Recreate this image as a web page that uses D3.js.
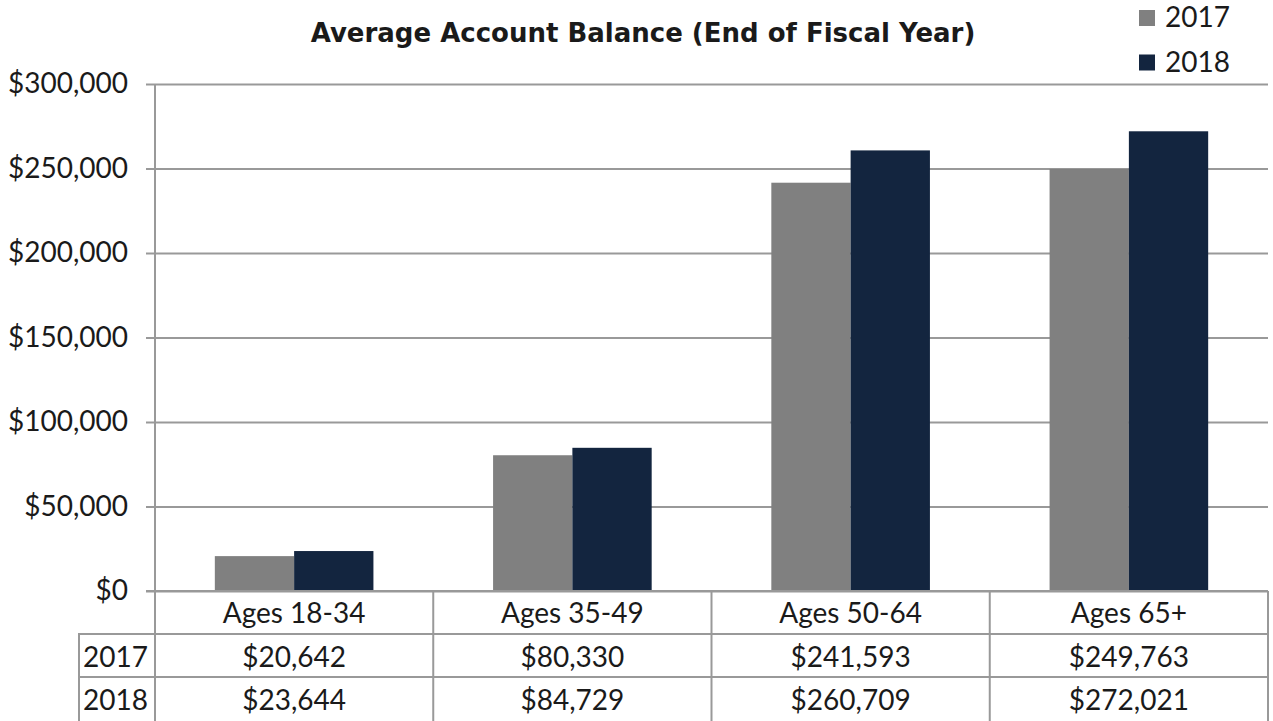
<!DOCTYPE html>
<html>
<head>
<meta charset="utf-8">
<script src="https://cdn.jsdelivr.net/npm/d3@7"></script>
<style>
	body { margin: 0; background: #fff; }
	text { font-family: Lato, "Noto Sans", sans-serif; fill: #1a1a1a; }
</style>
</head>
<body>
<div id="chart"></div>
<script>
// Data
const categories = ["Ages 18-34", "Ages 35-49", "Ages 50-64", "Ages 65+"];
const seriesNames = ["2017", "2018"];
const values2017 = [20642, 80330, 241593, 249763];
const values2018 = [23644, 84729, 260709, 272021];
const yTicks = [0, 50000, 100000, 150000, 200000, 250000, 300000];
const colors = ["#808080", "#13253f"];

const width = 1273;
const height = 721;
const plotLeft = 155, plotRight = 1268, plotTop = 84, plotBottom = 591;
const rowH = 43;
const gridColor = "#999";
const fontSize = 28;

const svg = d3.select("#chart").append("svg")
	.attr("width", width)
	.attr("height", height);

// scales
const x0 = d3.scaleBand()
	.domain(categories)
	.range([plotLeft, plotRight])
	.paddingInner(0.43)
	.paddingOuter(0.215);
const xCell = d3.scaleBand()
	.domain(categories)
	.range([plotLeft, plotRight]);
const x1 = d3.scaleBand()
	.domain(seriesNames)
	.range([0, x0.bandwidth()]);
const y = d3.scaleLinear()
	.domain([0, 300000])
	.range([plotBottom, plotTop]);

// y axis with gridlines
const fmt = d3.format("$,.0f");
const yAxis = d3.axisLeft(y)
	.tickValues(yTicks)
	.tickSize(-(plotRight - plotLeft))
	.tickPadding(18)
	.tickFormat(fmt);

const gy = svg.append("g")
	.attr("transform", "translate(" + plotLeft + ",0)")
	.call(yAxis);
gy.select(".domain").remove();
gy.selectAll(".tick line")
	.attr("stroke", gridColor)
	.attr("stroke-width", 2)
	.attr("x1", -9);
gy.selectAll(".tick text")
	.attr("font-size", fontSize)
	.attr("x", -27);

// bars
const series = [values2017, values2018];
const groups = svg.append("g").selectAll("g")
	.data(categories)
	.join("g")
	.attr("transform", d => "translate(" + x0(d) + ",0)");

groups.selectAll("rect")
	.data((d, i) => seriesNames.map((s, j) => ({ s: s, v: series[j][i], c: colors[j] })))
	.join("rect")
	.attr("x", d => x1(d.s))
	.attr("y", d => y(d.v))
	.attr("width", x1.bandwidth())
	.attr("height", d => plotBottom - y(d.v))
	.attr("fill", d => d.c);

// baseline
svg.append("line")
	.attr("x1", plotLeft - 9).attr("x2", plotRight)
	.attr("y1", plotBottom).attr("y2", plotBottom)
	.attr("stroke", gridColor).attr("stroke-width", 2);

// left axis line, runs down through the data table
svg.append("line")
	.attr("x1", plotLeft).attr("x2", plotLeft)
	.attr("y1", plotTop).attr("y2", height)
	.attr("stroke", gridColor).attr("stroke-width", 2);

// data table
const table = svg.append("g");
const rowTop = [plotBottom, plotBottom + rowH, plotBottom + rowH * 2];

// horizontal lines
[rowTop[1], rowTop[2]].forEach(yy => {
	table.append("line")
		.attr("x1", 78).attr("x2", plotRight)
		.attr("y1", yy).attr("y2", yy)
		.attr("stroke", gridColor).attr("stroke-width", 2);
});
// vertical lines
categories.forEach(c => {
	table.append("line")
		.attr("x1", xCell(c) + xCell.bandwidth()).attr("x2", xCell(c) + xCell.bandwidth())
		.attr("y1", plotBottom).attr("y2", height)
		.attr("stroke", gridColor).attr("stroke-width", 2);
});
table.append("line")
	.attr("x1", 79).attr("x2", 79)
	.attr("y1", rowTop[1]).attr("y2", height)
	.attr("stroke", gridColor).attr("stroke-width", 2);

// category labels
table.selectAll("text.cat")
	.data(categories)
	.join("text")
	.attr("class", "cat")
	.attr("x", d => xCell(d) + xCell.bandwidth() / 2)
	.attr("y", rowTop[0] + 32)
	.attr("text-anchor", "middle")
	.attr("font-size", fontSize)
	.text(d => d);

// value rows
series.forEach((vals, j) => {
	table.append("text")
		.attr("x", 83)
		.attr("y", rowTop[j + 1] + 33)
		.attr("font-size", fontSize)
		.text(seriesNames[j]);
	table.selectAll("text.v" + j)
		.data(vals)
		.join("text")
		.attr("class", "v" + j)
		.attr("x", (d, i) => xCell(categories[i]) + xCell.bandwidth() / 2)
		.attr("y", rowTop[j + 1] + 33)
		.attr("text-anchor", "middle")
		.attr("font-size", fontSize)
		.text(d => fmt(d));
});

// title
svg.append("text")
	.attr("x", 643)
	.attr("y", 42)
	.attr("text-anchor", "middle")
	.attr("font-size", 26)
	.attr("font-weight", "bold")
	.style("font-family", "'DejaVu Sans', sans-serif")
	.text("Average Account Balance (End of Fiscal Year)");

// legend
const legend = svg.append("g").selectAll("g")
	.data(seriesNames)
	.join("g")
	.attr("transform", (d, i) => "translate(1139," + (10 + i * 44.5) + ")");
legend.append("rect")
	.attr("width", 16).attr("height", 16)
	.attr("fill", (d, i) => colors[i]);
legend.append("text")
	.attr("x", 26)
	.attr("y", 17)
	.attr("font-size", fontSize)
	.text(d => d);
</script>
</body>
</html>
